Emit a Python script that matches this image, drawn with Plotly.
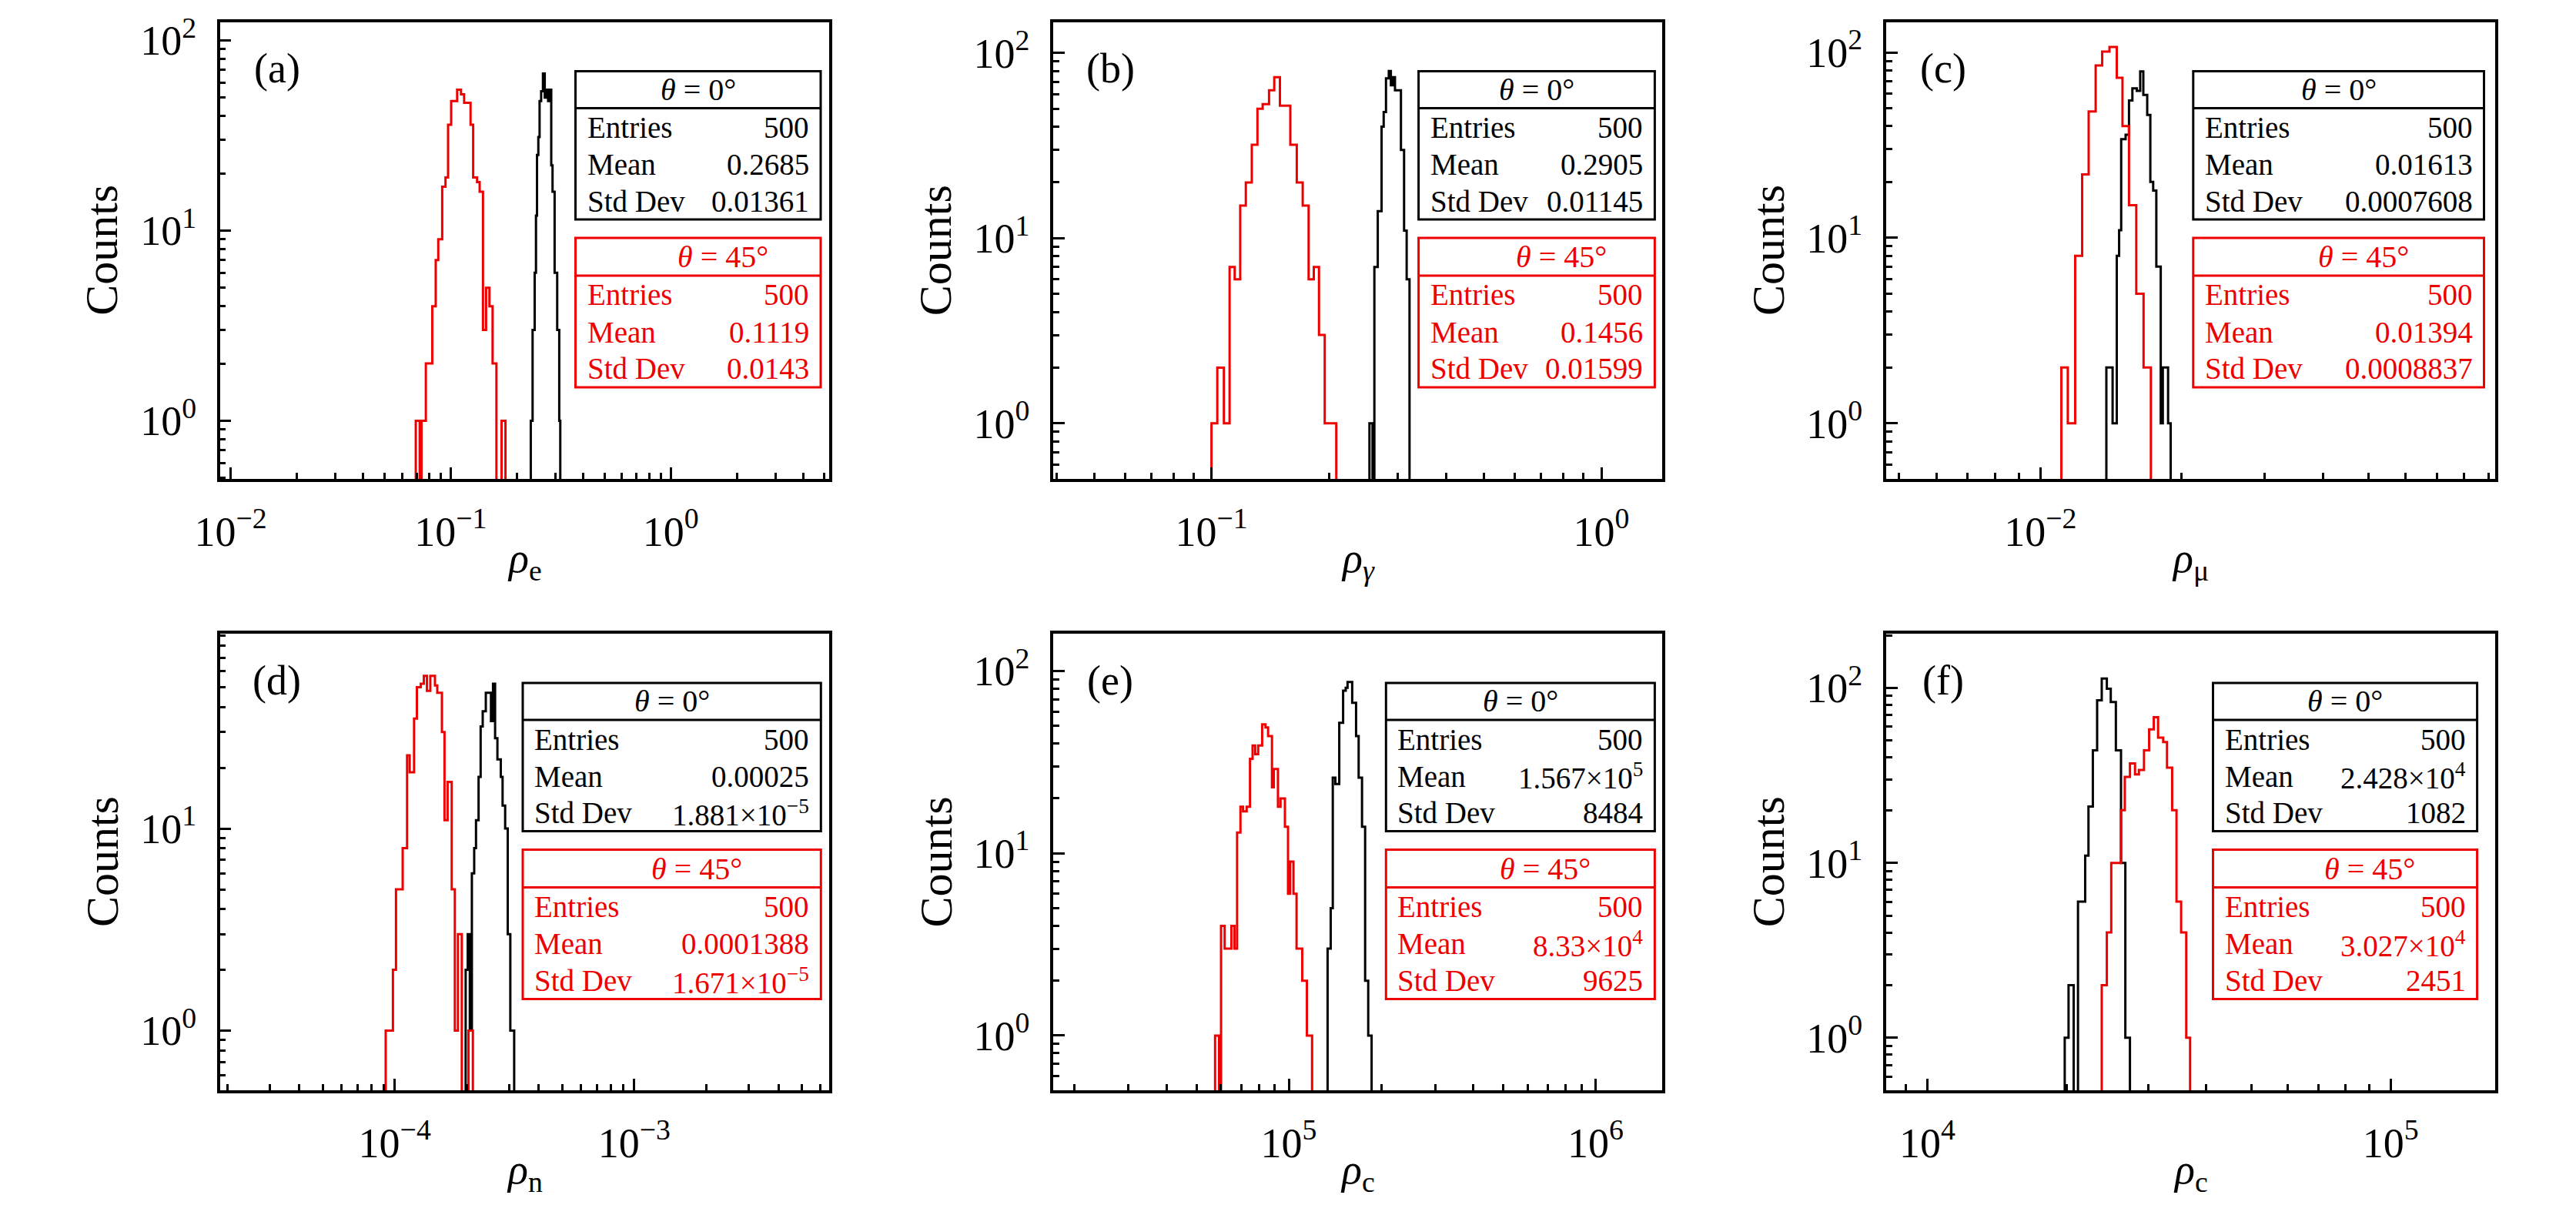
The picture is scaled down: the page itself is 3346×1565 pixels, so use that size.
import math
import plotly.graph_objects as go

# ---------------- data ----------------
A_BLACK_EDGES = [0.2312, 0.2356, 0.2408, 0.2441, 0.2468, 0.2502, 0.2535, 0.2577, 0.2626, 0.2676,
                 0.2720, 0.2772, 0.2825, 0.2864, 0.2903, 0.2967, 0.3048, 0.3114, 0.3148]
A_BLACK_COUNTS = [1, 3, 6, 12, 25, 31, 48, 54, 67, 50, 55, 48, 55, 22, 16, 6, 3, 1]
A_RED_EDGES = [0.0694, 0.0723, 0.0737, 0.0771, 0.0825, 0.0855, 0.0878, 0.0915, 0.0947, 0.0973,
               0.1005, 0.1070, 0.1114, 0.1151, 0.1231, 0.1265, 0.1318, 0.1354, 0.1402, 0.1448,
               0.1500, 0.1550, 0.1614, 0.1703, 0.1774]
A_RED_COUNTS = [1, 0, 1, 2, 4, 7, 9, 17, 19, 36, 48, 55, 52, 47, 36, 19, 18, 16, 3, 5, 4, 2, 0, 1]

B_BLACK_EDGES = [0.2542, 0.2589, 0.2617, 0.2670, 0.2731, 0.2765, 0.2803, 0.2850, 0.2885, 0.2920,
                 0.2956, 0.3062, 0.3119, 0.3167, 0.3221]
B_BLACK_COUNTS = [1, 0, 7, 14, 40, 48, 73, 80, 67, 74, 63, 30, 11, 6]
B_RED_EDGES = [0.1000, 0.1035, 0.1076, 0.1113, 0.1147, 0.1185, 0.1225, 0.1269, 0.1312, 0.1353,
               0.1405, 0.1449, 0.1498, 0.1593, 0.1655, 0.1714, 0.1775, 0.1830, 0.1887, 0.1952, 0.2090]
B_RED_COUNTS = [1, 2, 1, 7, 6, 15, 20, 32, 50, 53, 63, 74, 52, 32, 20, 15, 6, 7, 3, 1]

C_BLACK_EDGES = [0.013819, 0.014249, 0.014543, 0.014712, 0.014862, 0.015189, 0.015443, 0.015701,
                 0.016046, 0.016315, 0.016567, 0.016887, 0.017147, 0.017389, 0.017658, 0.018045,
                 0.018230, 0.018708, 0.018948]
C_BLACK_COUNTS = [2, 1, 8, 11, 34, 36, 55, 64, 62, 79, 59, 46, 20, 18, 7, 1, 2, 1]
C_RED_EDGES = [0.011081, 0.011437, 0.011859, 0.012272, 0.012670, 0.013113, 0.013539, 0.014032,
               0.014543, 0.014957, 0.015443, 0.016005, 0.016587, 0.017193]
C_RED_COUNTS = [2, 1, 8, 22, 48, 85, 101, 107, 73, 40, 15, 5, 2]

D_BLACK_EDGES = [1.9783e-4, 2.0180e-4, 2.0585e-4, 2.1000e-4, 2.1474e-4, 2.1850e-4, 2.2398e-4,
                 2.2847e-4, 2.3305e-4, 2.4010e-4, 2.4613e-4, 2.5231e-4, 2.5737e-4, 2.6253e-4,
                 2.6845e-4, 2.7726e-4, 2.8211e-4, 2.8919e-4, 2.9645e-4, 3.0389e-4, 3.1541e-4]
D_BLACK_COUNTS = [2, 3, 1, 6, 8, 11, 18, 32, 38, 47, 47, 34, 52, 28, 22, 18, 13, 10, 3, 1]
D_RED_EDGES = [9.17e-5, 9.83e-5, 1.0125e-4, 1.0798e-4, 1.1264e-4, 1.1548e-4, 1.2045e-4, 1.2378e-4,
               1.2847e-4, 1.3235e-4, 1.3635e-4, 1.4082e-4, 1.4725e-4, 1.5058e-4, 1.5746e-4,
               1.6142e-4, 1.6629e-4, 1.7302e-4, 1.7826e-4, 1.8364e-4, 1.9060e-4, 2.0329e-4, 2.1205e-4]
D_RED_COUNTS = [1, 2, 5, 8, 23, 19, 35, 50, 52, 57, 48, 57, 51, 47, 30, 11, 17, 5, 1, 3, 0, 1]

E_BLACK_EDGES = [133800, 136960, 139110, 141840, 146030, 150340, 153290, 155400, 160930, 165680,
                 168930, 173250, 177330, 181510, 186150]
E_BLACK_COUNTS = [3, 5, 26, 24, 52, 78, 81, 87, 67, 44, 26, 14, 2, 1]
E_RED_EDGES = [57510, 59210, 60140, 61800, 65000, 66530, 67840, 69570, 70930, 72880, 74740, 76200,
               77700, 79480, 81880, 83960, 85610, 88140, 89350, 92180, 93980, 97130, 99420, 100970,
               103560, 106000, 110620, 114560, 119100]
E_RED_COUNTS = [1, 0, 4, 3, 4, 3, 13, 18, 17, 18, 33, 39, 35, 39, 51, 49, 44, 23, 29, 18, 20, 14,
                6, 9, 6, 3, 2, 1]

F_BLACK_EDGES = [19800, 20180, 20700, 21150, 21920, 22280, 22770, 23260, 23800, 24410, 24890,
                 25530, 26190, 26760, 27380]
F_BLACK_COUNTS = [1, 2, 0, 6, 11, 21, 44, 85, 113, 99, 83, 44, 10, 1]
F_RED_EDGES = [23800, 24410, 24950, 26190, 26690, 27380, 28080, 28630, 29360, 30120, 30820, 31490,
               32300, 32920, 33770, 34510, 35310, 36220, 36920]
F_RED_COUNTS = [2, 4, 10, 20, 31, 37, 32, 34, 44, 58, 68, 52, 49, 35, 20, 6, 4, 1]

STAT_LABELS = ["Entries", "Mean", "Std Dev"]
STATS_BLACK = [
    ["500", "0.2685", "0.01361"],
    ["500", "0.2905", "0.01145"],
    ["500", "0.01613", "0.0007608"],
    ["500", "0.00025", "1.881×10<sup>−5</sup>"],
    ["500", "1.567×10<sup>5</sup>", "8484"],
    ["500", "2.428×10<sup>4</sup>", "1082"],
]
STATS_RED = [
    ["500", "0.1119", "0.0143"],
    ["500", "0.1456", "0.01599"],
    ["500", "0.01394", "0.0008837"],
    ["500", "0.0001388", "1.671×10<sup>−5</sup>"],
    ["500", "8.33×10<sup>4</sup>", "9625"],
    ["500", "3.027×10<sup>4</sup>", "2451"],
]
TITLE_BLACK = "<i>θ</i> = 0°"
TITLE_RED = "<i>θ</i> = 45°"
PANEL_LABELS = ["(a)", "(b)", "(c)", "(d)", "(e)", "(f)"]
X_TITLES = ["<i>ρ</i><sub>e</sub>", "<i>ρ</i><sub><i>γ</i></sub>", "<i>ρ</i><sub>μ</sub>",
            "<i>ρ</i><sub>n</sub>", "<i>ρ</i><sub>c</sub>", "<i>ρ</i><sub>c</sub>"]
Y_TITLE = "Counts"

# axis ranges (log10 units)
X_RANGES = [(-2.049, 0.72), (-1.406, 0.156), (-2.329, -1.031),
            (-4.730, -2.186), (4.232, 6.217), (3.911, 5.2257)]
Y_RANGES = [(-0.306, 2.097), (-0.30, 2.168), (-0.30, 2.164),
            (-0.295, 1.964), (-0.30, 2.205), (-0.30, 2.31)]

BLACK_HISTS = [(A_BLACK_EDGES, A_BLACK_COUNTS), (B_BLACK_EDGES, B_BLACK_COUNTS),
               (C_BLACK_EDGES, C_BLACK_COUNTS), (D_BLACK_EDGES, D_BLACK_COUNTS),
               (E_BLACK_EDGES, E_BLACK_COUNTS), (F_BLACK_EDGES, F_BLACK_COUNTS)]
RED_HISTS = [(A_RED_EDGES, A_RED_COUNTS), (B_RED_EDGES, B_RED_COUNTS),
             (C_RED_EDGES, C_RED_COUNTS), (D_RED_EDGES, D_RED_COUNTS),
             (E_RED_EDGES, E_RED_COUNTS), (F_RED_EDGES, F_RED_COUNTS)]

# ---------------- layout geometry (pixels of the 3346x1565 page) ----------------
W, H = 3346, 1565
OFF = 8                      # default body margin of the html page
FW, FH = W - 2 * OFF, H - OFF
COLS = [(285.6, 1077.0), (1368.0, 2159.0), (2449.8, 3241.0)]
ROWS = [(28.5, 622.0), (823.0, 1416.0)]
BOX_X = [(747.5, 1066.0), (1842.6, 2149.4), (2848.8, 3226.5),
         (679.0, 1066.3), (1800.3, 2149.4), (2874.5, 3217.6)]

FONT = "Liberation Serif, Times New Roman, serif"
RED = "#ee0000"
BLACK = "#000000"
BOX_FS = 39


def fx(x):
    return (x - OFF) / FW


def fy(y):
    return 1 - (y - OFF) / FH


def step_xy(edges, counts, floor=0.05):
    xs = [edges[0]] + list(edges)
    ys = [floor] + [c if c > 0 else floor for c in counts] + [floor]
    return xs, ys


def log_ticks(lo, hi):
    major, minor = [], []
    for k in range(math.floor(lo) - 1, math.ceil(hi) + 1):
        if lo <= k <= hi:
            major.append(k)
        for m in range(2, 10):
            v = k + math.log10(m)
            if lo <= v <= hi:
                minor.append(m * 10.0 ** k)
    return major, minor


def sup_label(k):
    s = str(k).replace("-", "−")
    return f"10<sup>{s}</sup>"


fig = go.Figure()
layout = dict(
    width=FW, height=FH,
    margin=dict(l=0, r=0, t=0, b=0),
    paper_bgcolor="white", plot_bgcolor="white",
    showlegend=False,
    font=dict(family=FONT, color="black"),
)
annotations = []
shapes = []

for i in range(6):
    r, c = divmod(i, 3)
    x0, x1 = COLS[c]
    y0, y1 = ROWS[r]
    n = "" if i == 0 else str(i + 1)
    xa, ya = "x" + n, "y" + n

    for (edges, counts), col in ((BLACK_HISTS[i], BLACK), (RED_HISTS[i], RED)):
        xs, ys = step_xy(edges, counts)
        fig.add_trace(go.Scatter(x=xs, y=ys, mode="lines", line_shape="hv",
                                 line=dict(color=col, width=3),
                                 xaxis=xa, yaxis=ya, hoverinfo="skip"))

    xmaj, xmin = log_ticks(*X_RANGES[i])
    ymaj, ymin = log_ticks(*Y_RANGES[i])
    common = dict(type="log", showline=True, mirror=True, linecolor="black", linewidth=3.5,
                  ticks="inside", ticklen=15, tickwidth=2.5, tickcolor="black",
                  showgrid=False, zeroline=False, automargin=False,
                  tickfont=dict(family=FONT, size=54, color="black"))
    layout["xaxis" + n] = dict(
        common, domain=[fx(x0), fx(x1)], anchor=ya, range=list(X_RANGES[i]),
        tickmode="array", tickvals=[10.0 ** k for k in xmaj],
        ticktext=[sup_label(k) for k in xmaj], ticklabelstandoff=18,
        minor=dict(tickmode="array", tickvals=xmin, ticks="inside", ticklen=8,
                   tickwidth=2.5, tickcolor="black", showgrid=False))
    layout["yaxis" + n] = dict(
        common, domain=[fy(y1), fy(y0)], anchor=xa, range=list(Y_RANGES[i]),
        tickmode="array", tickvals=[10.0 ** k for k in ymaj],
        ticktext=[sup_label(k) for k in ymaj], ticklabelstandoff=16,
        minor=dict(tickmode="array", tickvals=ymin, ticks="inside", ticklen=8,
                   tickwidth=2.5, tickcolor="black", showgrid=False))

    # axis titles
    annotations.append(dict(text=Y_TITLE, x=fx(x0 - 153), y=fy((y0 + y1) / 2),
                            xref="paper", yref="paper", showarrow=False, textangle=-90,
                            xanchor="center", yanchor="middle",
                            font=dict(family=FONT, size=60, color="black")))
    annotations.append(dict(text=X_TITLES[i], x=fx((x0 + x1) / 2), y=fy(y1 + 106),
                            xref="paper", yref="paper", showarrow=False,
                            xanchor="center", yanchor="middle",
                            font=dict(family=FONT, size=54, color="black")))
    annotations.append(dict(text=PANEL_LABELS[i], x=fx(x0 + 74), y=fy(y0 + 61),
                            xref="paper", yref="paper", showarrow=False,
                            xanchor="center", yanchor="middle",
                            font=dict(family=FONT, size=54, color="black")))

    # stats boxes
    bx0, bx1 = BOX_X[i]
    for (top, div, bot, title_y, rows_y, title_dx, col, title, vals) in (
        (64, 112, 256.5, 88, (137.5, 185, 232.5), 0, BLACK, TITLE_BLACK, STATS_BLACK[i]),
        (280.5, 329.5, 474.5, 305, (354, 402.5, 450.5), 32, RED, TITLE_RED, STATS_RED[i]),
    ):
        shapes.append(dict(type="rect", xref="paper", yref="paper",
                           x0=fx(bx0), x1=fx(bx1), y0=fy(y0 + bot), y1=fy(y0 + top),
                           line=dict(color=col, width=3), fillcolor="white", layer="above"))
        shapes.append(dict(type="line", xref="paper", yref="paper",
                           x0=fx(bx0), x1=fx(bx1), y0=fy(y0 + div), y1=fy(y0 + div),
                           line=dict(color=col, width=3), layer="above"))
        annotations.append(dict(text=title, x=fx((bx0 + bx1) / 2 + title_dx), y=fy(y0 + title_y),
                                xref="paper", yref="paper", showarrow=False,
                                xanchor="center", yanchor="middle",
                                font=dict(family=FONT, size=BOX_FS + 1, color=col)))
        for lab, val, ry in zip(STAT_LABELS, vals, rows_y):
            annotations.append(dict(text=lab, x=fx(bx0 + 13), y=fy(y0 + ry),
                                    xref="paper", yref="paper", showarrow=False,
                                    xanchor="left", yanchor="middle",
                                    font=dict(family=FONT, size=BOX_FS, color=col)))
            annotations.append(dict(text=val, x=fx(bx1 - 13), y=fy(y0 + ry),
                                    xref="paper", yref="paper", showarrow=False,
                                    xanchor="right", yanchor="middle",
                                    font=dict(family=FONT, size=BOX_FS, color=col)))

layout["annotations"] = annotations
layout["shapes"] = shapes
fig.update_layout(**layout)
fig.write_html("out.html")
